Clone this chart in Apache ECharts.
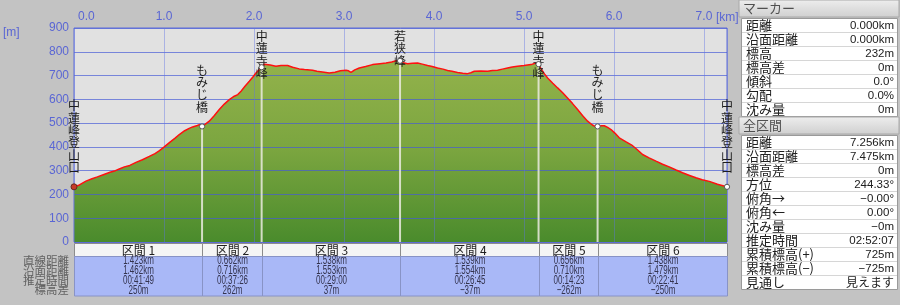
<!DOCTYPE html>
<html><head><meta charset="utf-8">
<script src="https://cdn.jsdelivr.net/npm/echarts@6/dist/echarts.min.js"></script>
<style>html,body{margin:0;padding:0;background:#c3c3c3;}#c{width:900px;height:305px;}</style>
</head><body><div id="c"></div>
<script>
// ---- profile (horizontal distance km, elevation m) ----
const distKm = [0.000,0.060,0.133,0.200,0.260,0.318,0.400,0.460,0.503,0.560,0.620,0.689,0.760,0.837,0.900,0.950,1.003,1.060,1.120,1.170,1.230,1.280,1.318,1.370,1.400,1.423,1.460,1.503,1.560,1.614,1.670,1.726,1.781,1.820,1.856,1.900,1.948,1.990,2.022,2.059,2.085,2.114,2.180,2.244,2.300,2.373,2.430,2.503,2.560,2.651,2.700,2.760,2.837,2.900,2.960,3.022,3.050,3.078,3.120,3.170,3.240,3.318,3.400,3.467,3.530,3.580,3.623,3.660,3.707,3.760,3.818,3.870,3.929,3.980,4.040,4.100,4.151,4.200,4.262,4.320,4.373,4.410,4.448,4.520,4.596,4.650,4.707,4.760,4.818,4.870,4.929,5.000,5.078,5.133,5.162,5.190,5.230,5.263,5.320,5.374,5.430,5.484,5.540,5.596,5.650,5.707,5.760,5.800,5.818,5.860,5.892,5.930,5.967,6.010,6.059,6.130,6.207,6.260,6.318,6.390,6.467,6.540,6.614,6.690,6.762,6.840,6.911,6.980,7.059,7.150,7.200,7.256];
const elevM = [232,240,256,266,274,282,293,300,307,316,322,335,346,360,372,384,400,418,436,452,468,478,484,490,494,486,496,508,532,557,580,599,613,620,634,655,676,695,711,725,735,748,744,739,742,742,735,728,725,722,718,715,711,714,720,722,720,713,724,732,738,746,750,753,757,762,762,754,750,752,753,748,742,738,732,727,721,718,713,710,708,712,718,719,718,721,722,727,732,736,739,742,746,753,748,728,706,690,668,648,628,606,582,557,532,508,492,484,486,489,489,482,473,458,438,422,405,388,368,354,340,327,316,303,291,280,270,262,255,243,238,232];

// ---- waypoints ----
const wpNames = ['中蓮峰登山口','もみじ橋','中蓮寺峰','若狭峰','中蓮寺峰','もみじ橋','中蓮峰登山口'];
const wpElev = [232,486,735,762,748,486,232];

// ---- sections table ----
const secNames = ['区間 1','区間 2','区間 3','区間 4','区間 5','区間 6'];
const secStraight = ['1.423km','0.662km','1.538km','1.539km','0.656km','1.438km'];
const secSurface = ['1.462km','0.716km','1.553km','1.554km','0.710km','1.479km'];
const secTime = ['00:41:49','00:37:26','00:29:00','00:26:45','00:14:23','00:22:41'];
const secElevDiff = ['250m','262m','37m','−37m','−262m','−250m'];
const rowHeads = ['直線距離','沿面距離','推定時間','標高差'];

// ---- side panel ----
const markerTitle = 'マーカー';
const markerLabels = ['距離','沿面距離','標高','標高差','傾斜','勾配','沈み量'];
const markerValues = ['0.000km','0.000km','232m','0m','0.0°','0.0%','0m'];
const totalTitle = '全区間';
const totalLabels = ['距離','沿面距離','標高差','方位','俯角→','俯角←','沈み量','推定時間','累積標高(+)','累積標高(−)','見通し'];
const totalValues = ['7.256km','7.475km','0m','244.33°','−0.00°','0.00°','−0m','02:52:07','725m','−725m','見えます'];

// section boundaries from cumulative straight distances
const bounds = [0];
secStraight.forEach((s,i)=>bounds.push(+(bounds[i]+parseFloat(s)).toFixed(3)));

const JP = '"Noto Sans CJK JP"';
const NUM = '"Liberation Sans", Arial, sans-serif';
const axisBlue = '#5a66d4';

const chart = echarts.init(document.getElementById('c'), null, {renderer:'canvas'});

// side panel graphics
const graphics = [];
function panel(title, labels, values, top){
  graphics.push({type:'rect', shape:{x:739,y:top,width:160,height:17},
    style:{fill:new echarts.graphic.LinearGradient(0,0,0,1,[{offset:0,color:'#eeeeee'},{offset:1,color:'#cfcfcf'}]), stroke:'#a8a8a8', lineWidth:1}});
  graphics.push({type:'text', style:{text:title, x:743, y:top+8.5, verticalAlign:'middle', font:'13px '+JP, fill:'#505050'}});
  const t0 = top+18, rh = 14;
  graphics.push({type:'rect', shape:{x:741.5,y:t0+0.5,width:156,height:labels.length*rh}, style:{fill:'#ffffff', stroke:'#9a9a9a', lineWidth:1}});
  labels.forEach((l,i)=>{
    const cy = t0 + i*rh + rh/2 + 0.5;
    if(i>0) graphics.push({type:'line', shape:{x1:742,y1:t0+i*rh+0.5,x2:897,y2:t0+i*rh+0.5}, style:{stroke:'#d6d6d6', lineWidth:1}});
    graphics.push({type:'text', style:{text:l, x:746, y:cy, verticalAlign:'middle', font:'13px '+JP, fill:'#202020'}});
    const v = values[i];
    const isJP = /[ぁ-んァ-ン一-龥]/.test(v);
    graphics.push({type:'text', style:{text:v, x:894, y:cy, align:'right', verticalAlign:'middle', font:(isJP?'12px '+JP:'11.5px '+NUM), fill:'#202020'}});
  });
}
panel(markerTitle, markerLabels, markerValues, 0);
panel(totalTitle, totalLabels, totalValues, 117);

// axis unit labels and row heads
graphics.push({type:'text', style:{text:'[m]', x:3, y:33, verticalAlign:'middle', font:'12px '+NUM, fill:axisBlue}});
graphics.push({type:'text', style:{text:'[km]', x:716, y:18, verticalAlign:'middle', font:'12px '+NUM, fill:axisBlue}});
rowHeads.forEach((h,k)=>{
  graphics.push({type:'text', z:1, style:{text:h, x:69, y:261+k*9.7, align:'right', verticalAlign:'middle', font:'11.5px '+JP, fill:'#626262'}});
});

const profile = distKm.map((d,i)=>[d, elevM[i]]);

const option = {
  animation:false,
  backgroundColor:'#c3c3c3',
  grid:{left:74, top:28, width:653, height:214, show:true, backgroundColor:'#e1e1e1', borderColor:'#5d6bd6', borderWidth:1},
  xAxis:{type:'value', position:'top', min:0, max:7.256, interval:1, z:5,
    axisLine:{show:false}, axisTick:{show:false},
    axisLabel:{color:axisBlue, fontSize:12, fontFamily:NUM, margin:5, showMaxLabel:false, alignMinLabel:'left',
      formatter:v=> v===0 ? '{p|}0.0' : v.toFixed(1), rich:{p:{width:4}}},
    splitLine:{lineStyle:{color:'rgba(95,115,230,0.42)', width:1}}},
  yAxis:{type:'value', min:0, max:900, interval:100, z:5,
    axisLine:{show:false}, axisTick:{show:false},
    axisLabel:{color:axisBlue, fontSize:12, fontFamily:NUM, margin:5},
    splitLine:{lineStyle:{color:'rgba(70,90,215,0.68)', width:1}}},
  graphic:graphics,
  series:[
    {type:'line', data:profile, showSymbol:false, z:2, lineStyle:{width:0},
      areaStyle:{opacity:1, color:new echarts.graphic.LinearGradient(0,0,0,1,[{offset:0,color:'#93b24b'},{offset:0.5,color:'#7aa53f'},{offset:1,color:'#4a8b2c'}])}},
    {type:'line', data:profile, showSymbol:false, z:6, lineStyle:{color:'#ff1010', width:1.5}},
    {type:'custom', z:8, clip:false, data:bounds.map((d,i)=>[d, wpElev[i]]),
      renderItem:function(params, api){
        const i = params.dataIndex;
        const pt = api.coord([api.value(0), api.value(1)]);
        const base = api.coord([api.value(0), 0]);
        const cs = params.coordSys;
        const name = wpNames[i];
        const lh = 12.4;
        const top = Math.max(cs.y + 2, pt[1] - 13 - name.length*lh);
        const ch = [];
        if(i>0 && i<bounds.length-1) ch.push({type:'line', shape:{x1:pt[0], y1:pt[1], x2:pt[0], y2:base[1]}, style:{stroke:'rgba(235,235,225,0.85)', lineWidth:2}});
        ch.push({type:'text', style:{text:name.split('').join('\n'), x:pt[0], y:top, align:'center', verticalAlign:'top', lineHeight:lh, font:'12px '+JP, fill:'#1c1c1c'}});
        if(i===0){
          ch.push({type:'circle', shape:{cx:pt[0], cy:pt[1], r:3}, style:{fill:'#c83a28', stroke:'#6a2a20', lineWidth:1}});
        } else {
          ch.push({type:'circle', shape:{cx:pt[0], cy:pt[1], r:2.6}, style:{fill:'#ffffff', stroke:'#555555', lineWidth:1}});
        }
        return {type:'group', children:ch};
      }},
    {type:'custom', z:4, clip:false, data:secNames.map((n,i)=>[bounds[i], bounds[i+1]]),
      renderItem:function(params, api){
        const i = params.dataIndex;
        const x0 = Math.round(api.coord([api.value(0),0])[0]) + 0.5;
        const x1 = Math.round(api.coord([api.value(1),0])[0]) + 0.5;
        const cs = params.coordSys; const yb = cs.y + cs.height;
        const cx = (x0+x1)/2;
        const ch = [
          {type:'rect', shape:{x:x0, y:yb+1.5, width:x1-x0, height:13}, style:{fill:'#f5f5f5', stroke:'#8c8c8c', lineWidth:1}},
          {type:'rect', shape:{x:x0, y:yb+14.5, width:x1-x0, height:39.5}, style:{fill:'#a9b8f7', stroke:'#8893c6', lineWidth:1}},
          {type:'text', style:{text:secNames[i], x:cx, y:yb+8.5, align:'center', verticalAlign:'middle', font:'12px '+JP, fill:'#1e1e1e'}}
        ];
        [secStraight[i], secSurface[i], secTime[i], secElevDiff[i]].forEach((v,k)=>{
          ch.push({type:'text', x:cx, y:yb+19+k*9.7, scaleX:0.64,
            style:{text:v, x:0, y:0, align:'center', verticalAlign:'middle', font:'12.5px '+NUM, fill:'#34344f'}});
        });
        return {type:'group', children:ch};
      }}
  ]
};
chart.setOption(option);
</script></body></html>
